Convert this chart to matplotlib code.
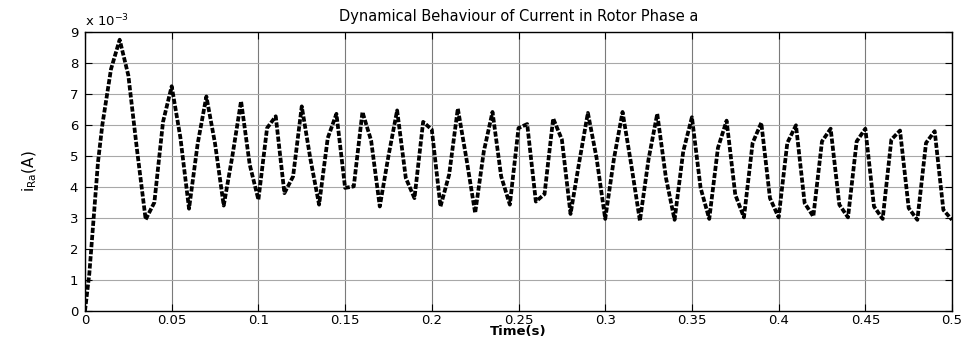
import matplotlib
matplotlib.use('Agg')
from matplotlib import pyplot as plt
import numpy as np

# time samples (s) and rotor phase-a current (x 1e-3 A)
time_s = [0.0, 0.0025, 0.005, 0.0075, 0.01, 0.015, 0.02, 0.025, 0.03, 0.035,
          0.04, 0.045, 0.05, 0.055, 0.06, 0.065, 0.07, 0.075, 0.08, 0.085,
          0.09, 0.095, 0.1, 0.105, 0.11, 0.115, 0.12, 0.125, 0.13, 0.135,
          0.14, 0.145, 0.15, 0.155, 0.16, 0.165, 0.17, 0.175, 0.18, 0.185,
          0.19, 0.195, 0.2, 0.205, 0.21, 0.215, 0.22, 0.225, 0.23, 0.235,
          0.24, 0.245, 0.25, 0.255, 0.26, 0.265, 0.27, 0.275, 0.28, 0.285,
          0.29, 0.295, 0.3, 0.305, 0.31, 0.315, 0.32, 0.325, 0.33, 0.335,
          0.34, 0.345, 0.35, 0.355, 0.36, 0.365, 0.37, 0.375, 0.38, 0.385,
          0.39, 0.395, 0.4, 0.405, 0.41, 0.415, 0.42, 0.425, 0.43, 0.435,
          0.44, 0.445, 0.45, 0.455, 0.46, 0.465, 0.47, 0.475, 0.48, 0.485,
          0.49, 0.495, 0.5]
i_ra = [0.0, 1.2, 3.0, 4.8, 6.0, 7.8, 8.75, 7.6, 5.2, 2.95,
        3.5, 6.1, 7.25, 5.6, 3.3, 5.4, 6.92, 5.4, 3.4, 5.0,
        6.77, 4.72, 3.59, 5.9, 6.28, 3.8, 4.34, 6.6, 4.9, 3.43,
        5.58, 6.36, 3.97, 4.02, 6.42, 5.5, 3.37, 5.0, 6.47, 4.29,
        3.64, 6.1, 5.85, 3.37, 4.4, 6.53, 4.9, 3.16, 5.15, 6.42,
        4.34, 3.43, 5.9, 6.03, 3.53, 3.77, 6.21, 5.53, 3.13, 4.8,
        6.39, 4.94, 2.97, 4.9, 6.42, 4.72, 2.91, 4.9, 6.36, 4.3,
        2.94, 5.15, 6.25, 3.97, 2.97, 5.26, 6.14, 3.75, 3.02, 5.42,
        6.07, 3.64, 3.02, 5.42, 5.99, 3.48, 3.05, 5.47, 5.88, 3.43,
        3.02, 5.47, 5.88, 3.37, 2.97, 5.53, 5.82, 3.32, 2.94, 5.42,
        5.8, 3.26, 2.94]

x_ticks = [0, 0.05, 0.1, 0.15, 0.2, 0.25, 0.3, 0.35, 0.4, 0.45, 0.5]
x_tick_labels = ['0', '0.05', '0.1', '0.15', '0.2', '0.25', '0.3', '0.35', '0.4', '0.45', '0.5']
y_ticks = list(range(0, 10))

plt.rcParams['font.family'] = ['DejaVu Sans']

fig = plt.figure(figsize=(9.69, 3.40), dpi=100)
ax = fig.add_axes([0.0877, 0.0853, 0.8948, 0.8207])

ax.plot(time_s, np.array(i_ra), color='black', linewidth=2.7,
        linestyle=(0, (1.4, 0.5)), dash_capstyle='butt')

ax.set_xlim(0, 0.5)
ax.set_ylim(0, 9)
ax.set_xticks(x_ticks)
ax.set_xticklabels(x_tick_labels)
ax.set_yticks(y_ticks)

ax.xaxis.grid(True, color='#7a7a7a', linewidth=0.8)
ax.yaxis.grid(True, color='#a8a8a8', linewidth=0.8)
ax.set_axisbelow(True)

ax.tick_params(direction='in', top=True, right=True, length=5, width=0.8,
               labelsize=9.5, pad=2)
ax.tick_params(axis='y', pad=5)
for spine in ax.spines.values():
    spine.set_linewidth(1.0)

ax.set_title('Dynamical Behaviour of Current in Rotor Phase a', fontsize=10.5, pad=8)
ax.set_xlabel('Time(s)', fontsize=9.5, fontweight='bold', labelpad=-1)
ax.set_ylabel(r'i$_{\mathrm{Ra}}$(A)', fontsize=11, labelpad=22)
ax.text(0.0, 1.01, r'x 10$^{-3}$', transform=ax.transAxes, fontsize=9.5,
        ha='left', va='bottom')

fig.savefig('out.png', dpi=100)
